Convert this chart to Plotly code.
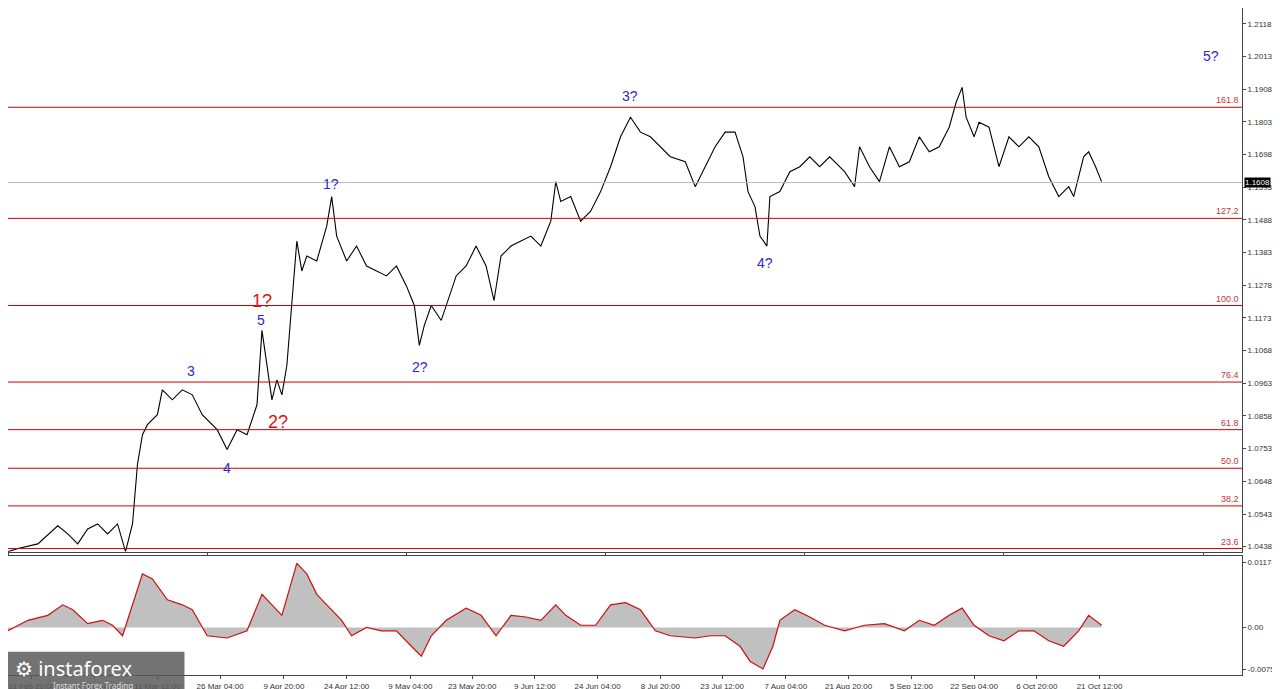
import plotly.graph_objects as go
from plotly.subplots import make_subplots

# time axis as bar index (chart columns)
price_x = [0, 10, 30, 50, 60, 70, 80, 90, 100, 110, 118, 125, 130, 135, 140, 150, 155, 165, 175, 185,
           195, 210, 220, 230, 240, 250, 255, 260, 265, 270, 275, 280, 285, 290, 295, 300, 310, 320, 325, 330,
           340, 350, 360, 370, 380, 390, 400, 408, 413, 418, 425, 435, 440, 450, 460, 470, 480, 488, 495, 505,
           515, 525, 535, 545, 550, 555, 565, 575, 585, 595, 605, 615, 625, 635, 645, 655, 665, 680, 690, 700,
           710, 720, 730, 738, 743, 750, 755, 762, 765, 775, 785, 795, 805, 815, 825, 840, 850, 855, 865, 875,
           885, 895, 905, 915, 925, 935, 945, 952, 958, 962, 970, 975, 985, 995, 1005, 1015, 1025, 1035, 1045, 1055,
           1065, 1070, 1080, 1085, 1092, 1098]
price_y = [1.0422, 1.0432, 1.0447, 1.0505, 1.0479, 1.0447, 1.0495, 1.0511, 1.0479, 1.0511, 1.0422, 1.0511, 1.0703, 1.0798, 1.0830, 1.0862, 1.0942, 1.0910, 1.0942, 1.0926,
           1.0862, 1.0814, 1.0750, 1.0814, 1.0798, 1.0894, 1.1133, 1.1021, 1.0910, 1.0974, 1.0926, 1.1021, 1.1213, 1.1420, 1.1324, 1.1372, 1.1356, 1.1468, 1.1563, 1.1436,
           1.1356, 1.1404, 1.1340, 1.1324, 1.1308, 1.1340, 1.1276, 1.1213, 1.1085, 1.1149, 1.1213, 1.1165, 1.1213, 1.1308, 1.1340, 1.1404, 1.1340, 1.1229, 1.1372, 1.1404,
           1.1420, 1.1436, 1.1404, 1.1484, 1.1611, 1.1547, 1.1563, 1.1484, 1.1516, 1.1579, 1.1659, 1.1755, 1.1818, 1.1770, 1.1755, 1.1723, 1.1691, 1.1675, 1.1595, 1.1659,
           1.1723, 1.1770, 1.1770, 1.1691, 1.1579, 1.1531, 1.1436, 1.1404, 1.1563, 1.1579, 1.1643, 1.1659, 1.1691, 1.1659, 1.1691, 1.1643, 1.1595, 1.1723, 1.1659, 1.1611,
           1.1723, 1.1659, 1.1675, 1.1755, 1.1707, 1.1723, 1.1786, 1.1866, 1.1914, 1.1818, 1.1755, 1.1802, 1.1786, 1.1659, 1.1755, 1.1723, 1.1755, 1.1723, 1.1627, 1.1563,
           1.1595, 1.1563, 1.1691, 1.1707, 1.1659, 1.1611]

osc_x = [0, 20, 40, 55, 65, 80, 95, 105, 115, 125, 135, 145, 160, 175, 185, 200, 220, 240, 255, 265,
         275, 290, 300, 310, 320, 335, 345, 360, 375, 390, 405, 415, 425, 440, 460, 475, 490, 505, 520, 535,
         550, 560, 575, 590, 605, 620, 635, 650, 665, 690, 705, 720, 735, 745, 758, 768, 775, 790, 805, 820,
         840, 860, 880, 900, 915, 930, 945, 958, 970, 985, 1000, 1015, 1030, 1045, 1060, 1075, 1085, 1098]
osc_y = [-0.0006, 0.0013, 0.0022, 0.0041, 0.0032, 0.0007, 0.0013, 0.0004, -0.0015, 0.0041, 0.0097, 0.0088, 0.0050, 0.0041, 0.0032, -0.0015, -0.0019, -0.0006, 0.0060, 0.0041,
         0.0022, 0.0116, 0.0097, 0.0060, 0.0041, 0.0013, -0.0015, 0.0, -0.0006, -0.0006, -0.0034, -0.0052, -0.0015, 0.0013, 0.0035, 0.0022, -0.0015, 0.0022, 0.0019, 0.0013,
         0.0041, 0.0022, 0.0004, 0.0004, 0.0041, 0.0045, 0.0032, -0.0006, -0.0015, -0.0019, -0.0015, -0.0015, -0.0034, -0.0061, -0.0075, -0.0034, 0.0013, 0.0032, 0.0019, 0.0004,
         -0.0006, 0.0004, 0.0007, -0.0006, 0.0013, 0.0004, 0.0022, 0.0035, 0.0004, -0.0015, -0.0024, -0.0006, -0.0006, -0.0024, -0.0034, -0.0006, 0.0022, 0.0004]

fib_names = ["161.8", "127.2", "100.0", "76.4", "61.8", "50.0", "38.2", "23.6"]
fib_levels = [1.1850, 1.1493, 1.1213, 1.0967, 1.0814, 1.0690, 1.0569, 1.0432]
current_price = 1.1608

wave_text = ["3", "4", "5", "1?", "2?", "3?", "4?", "5?", "1?", "2?"]
wave_x = [184, 220, 254, 324, 414, 625, 760, 1208, 255, 271]
wave_y = [1.1002, 1.0690, 1.1168, 1.1602, 1.1015, 1.1885, 1.1350, 1.2016, 1.1229, 1.0840]
wave_color = ["#2a2ad0"] * 8 + ["#e01010"] * 2
wave_size = [14] * 8 + [18] * 2

price_ticks = [1.2118, 1.2013, 1.1908, 1.1803, 1.1698, 1.1593, 1.1488, 1.1383, 1.1278, 1.1173,
               1.1068, 1.0963, 1.0858, 1.0753, 1.0648, 1.0543, 1.0438]
osc_ticks = [0.01174, 0.0, -0.00759]
osc_tick_text = ["0.01174", "0.00", "-0.00759"]
time_ticks = [24, 87, 150, 213, 277, 340, 404, 466, 529, 592, 655, 717, 781, 844, 907, 970, 1033, 1096]
time_labels = ["11 Feb 20:00", "26 Feb 04:00", "11 Mar 12:00", "26 Mar 04:00", "9 Apr 20:00", "24 Apr 12:00",
               "9 May 04:00", "23 May 20:00", "9 Jun 12:00", "24 Jun 04:00", "8 Jul 20:00", "23 Jul 12:00",
               "7 Aug 04:00", "21 Aug 20:00", "5 Sep 12:00", "22 Sep 04:00", "6 Oct 20:00", "21 Oct 12:00"]

fig = make_subplots(rows=2, cols=1, shared_xaxes=True, vertical_spacing=0.006,
                    row_heights=[0.82, 0.18])

fig.add_trace(go.Scatter(x=price_x, y=price_y, mode="lines",
                         line=dict(color="black", width=1.1)), row=1, col=1)

for name, lvl in zip(fib_names, fib_levels):
    fig.add_hline(y=lvl, line=dict(color="#cc0000", width=1), row=1, col=1)
    fig.add_annotation(x=1238, y=lvl, text=name, showarrow=False, xanchor="right", yanchor="bottom",
                       font=dict(size=9, color="#cc3333", family="Liberation Sans"), xref="x", yref="y")
fig.add_hline(y=current_price, line=dict(color="#bbbbbb", width=1), row=1, col=1)
fig.add_annotation(x=1.0, xref="paper", y=current_price, yref="y", text="1.1608", showarrow=False,
                   xanchor="left", xshift=2, bgcolor="black", borderpad=0,
                   font=dict(size=8, color="white", family="Liberation Sans"))

for t, x, y, c, s in zip(wave_text, wave_x, wave_y, wave_color, wave_size):
    fig.add_annotation(x=x, y=y, text=t, showarrow=False, xref="x", yref="y",
                       font=dict(size=s, color=c, family="Liberation Sans"))

fig.add_trace(go.Scatter(x=osc_x, y=osc_y, mode="lines", fill="tozeroy", fillcolor="#c0c0c0",
                         line=dict(color="#c0c0c0", width=0.5)), row=2, col=1)
fig.add_trace(go.Scatter(x=osc_x, y=osc_y, mode="lines", line=dict(color="#d01010", width=1.2)), row=2, col=1)

axis_font = dict(size=8, color="#333333", family="Liberation Sans")
fig.update_xaxes(range=[0, 1239], showgrid=False, zeroline=False, showline=True, linecolor="#444",
                 mirror=True, ticks="outside", ticklen=3)
fig.update_xaxes(tickvals=time_ticks, ticktext=time_labels, tickfont=axis_font, row=2, col=1)
fig.update_yaxes(side="right", showgrid=False, zeroline=False, showline=True, linecolor="#444",
                 ticks="outside", ticklen=3, tickfont=axis_font)
fig.update_yaxes(range=[1.0422, 1.2169], tickvals=price_ticks, tickformat=".4f", row=1, col=1)
fig.update_yaxes(range=[-0.0086, 0.0130], tickvals=osc_ticks, ticktext=osc_tick_text, row=2, col=1)

# watermark logo
fig.add_shape(type="rect", xref="paper", yref="paper", x0=0, x1=0.143, y0=-0.035, y1=0.035,
              fillcolor="rgba(90,90,90,0.85)", line=dict(width=0), layer="above")
fig.add_annotation(xref="paper", yref="paper", x=0.004, y=0.01, text="⚙ instaforex", showarrow=False,
                   xanchor="left", yanchor="middle", font=dict(size=20, color="white", family="Noto Sans"))
fig.add_annotation(xref="paper", yref="paper", x=0.035, y=-0.016, text="Instant Forex Trading", showarrow=False,
                   xanchor="left", yanchor="middle", font=dict(size=8, color="#dddddd", family="Noto Sans"))

fig.update_layout(width=1280, height=689, showlegend=False, plot_bgcolor="white", paper_bgcolor="white",
                  margin=dict(l=0, r=46, t=0, b=22))
fig.write_html("out.html")
